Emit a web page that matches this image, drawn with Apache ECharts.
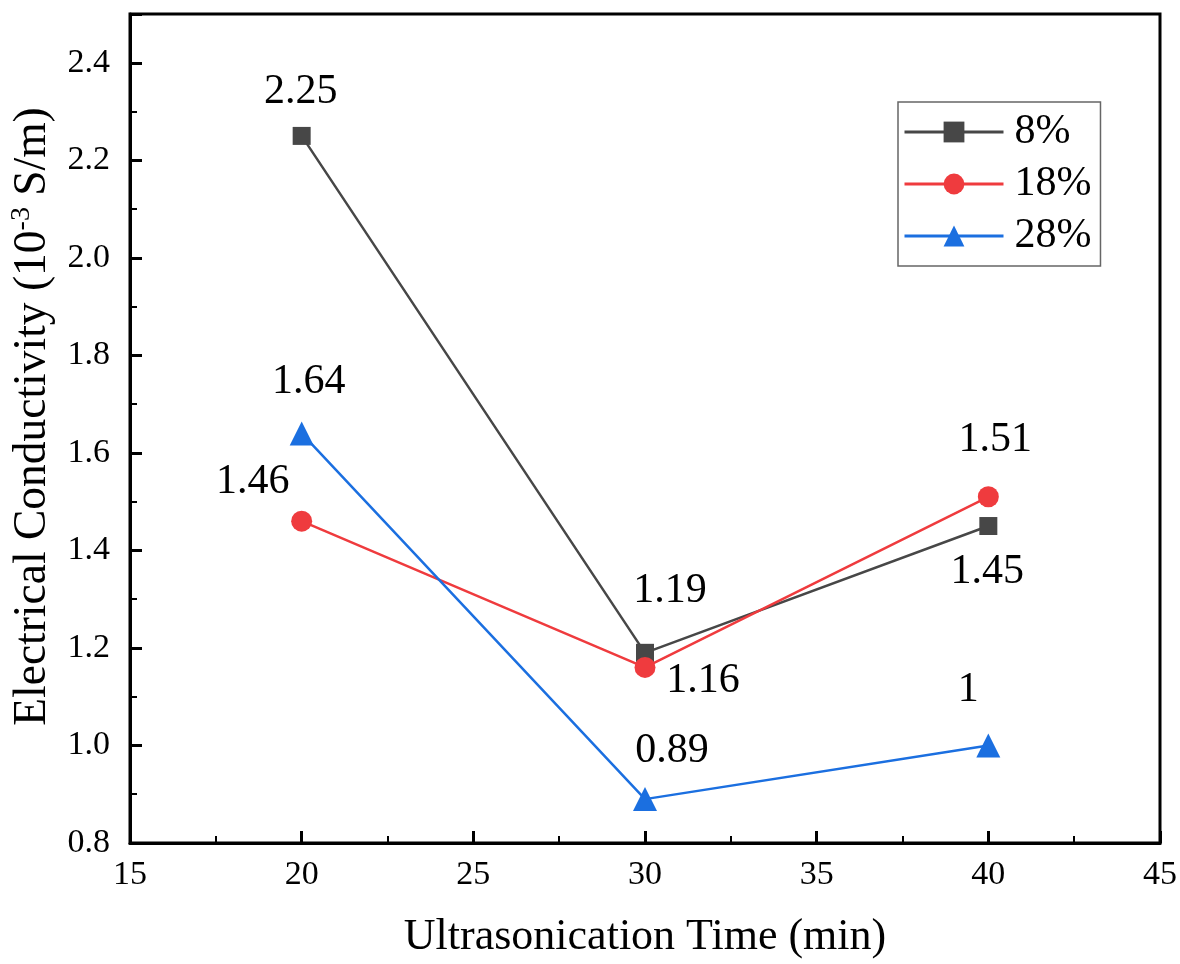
<!DOCTYPE html>
<html>
<head>
<meta charset="utf-8">
<script src="https://cdn.jsdelivr.net/npm/echarts@6/dist/echarts.min.js"></script>
<style>
  html, body { margin: 0; padding: 0; background: #fff; }
  #chart { width: 1180px; height: 964px; }
</style>
</head>
<body>
<div id="chart"></div>
<script>
// ultrasonication time (min)
const times = [20, 30, 40]
// conductivity (10^-3 S/m) per concentration
const seriesNames = ['8%', '18%', '28%']
const cond8 = [2.25, 1.19, 1.45]
const cond18 = [1.46, 1.16, 1.51]
const cond28 = [1.64, 0.89, 1]

// label nudges (px, from the marker centre)
const offsets8 = [[-1, -44], [25, -62], [-1, 46]]
const offsets18 = [[-49, -39], [58, 14], [7, -57]]
const offsets28 = [[7, -51], [27, -48], [-20, -56]]

const font = '"Liberation Serif", "Times New Roman", serif'
const chart = echarts.init(document.getElementById('chart'))

function points(vals, offs) {
  return vals.map((v, i) => ({
    value: [times[i], v],
    label: { offset: offs[i] }
  }))
}

function makeSeries(name, vals, offs, color, symbol, size) {
  return {
    name: name,
    type: 'line',
    data: points(vals, offs),
    symbol: symbol,
    symbolSize: size,
    itemStyle: { color: color },
    lineStyle: { color: color, width: 2.5 },
    label: {
      show: true,
      position: 'inside',
      color: '#000',
      fontFamily: font,
      fontSize: 42,
      formatter: p => String(p.value[1])
    },
    emphasis: { disabled: true },
    animation: false
  }
}

chart.setOption({
  backgroundColor: '#fff',
  grid: {
    left: 130,
    right: 18,
    top: 14,
    bottom: 118,
    show: true,
    borderColor: '#000',
    borderWidth: 3
  },
  legend: {
    left: 898,
    top: 102,
    orient: 'vertical',
    data: seriesNames,
    itemWidth: 99,
    itemHeight: 26,
    itemGap: 10,
    padding: [9, 9, 9, 5],
    borderColor: '#666',
    borderWidth: 1.5,
    lineStyle: { width: 3 },
    textStyle: { fontFamily: font, fontSize: 42, color: '#000', padding: [0, 0, 0, 6] }
  },
  xAxis: {
    type: 'value',
    min: 15,
    max: 45,
    interval: 5,
    name: 'Ultrasonication Time (min)',
    nameLocation: 'middle',
    nameGap: 72,
    nameTextStyle: { fontFamily: font, fontSize: 44, color: '#000' },
    axisLine: { onZero: false, lineStyle: { color: '#000', width: 3 } },
    axisTick: { inside: true, length: 12, lineStyle: { color: '#000', width: 3 } },
    minorTick: { show: true, splitNumber: 2, length: 7, lineStyle: { color: '#000', width: 2 } },
    axisLabel: { fontFamily: font, fontSize: 34, color: '#000', margin: 15 },
    splitLine: { show: false }
  },
  yAxis: {
    type: 'value',
    min: 0.8,
    max: 2.5,
    interval: 0.2,
    name: '{a|Electrical Conductivity (10}{s|-3}{a| S/m)}',
    nameLocation: 'middle',
    nameGap: 72,
    nameTextStyle: {
      fontFamily: font,
      color: '#000',
      padding: [0, 0, 0, 24],
      rich: {
        a: { fontFamily: font, fontSize: 45.5, color: '#000', lineHeight: 50 },
        s: { fontFamily: font, fontSize: 28, color: '#000', verticalAlign: 'top', lineHeight: 50, padding: [0, 0, 17, 0] }
      }
    },
    axisLine: { onZero: false, lineStyle: { color: '#000', width: 3 } },
    axisTick: { inside: true, length: 12, lineStyle: { color: '#000', width: 3 } },
    minorTick: { show: true, splitNumber: 2, length: 7, lineStyle: { color: '#000', width: 2 } },
    axisLabel: {
      fontFamily: font,
      fontSize: 34,
      color: '#000',
      margin: 20,
      showMaxLabel: false,
      formatter: v => v.toFixed(1)
    },
    splitLine: { show: false }
  },
  series: [
    makeSeries('8%', cond8, offsets8, '#474747', 'rect', 18),
    makeSeries('18%', cond18, offsets18, '#ef3b3e', 'circle', 21),
    makeSeries('28%', cond28, offsets28, '#1b6fe0', 'triangle', 24)
  ]
})
</script>
</body>
</html>
